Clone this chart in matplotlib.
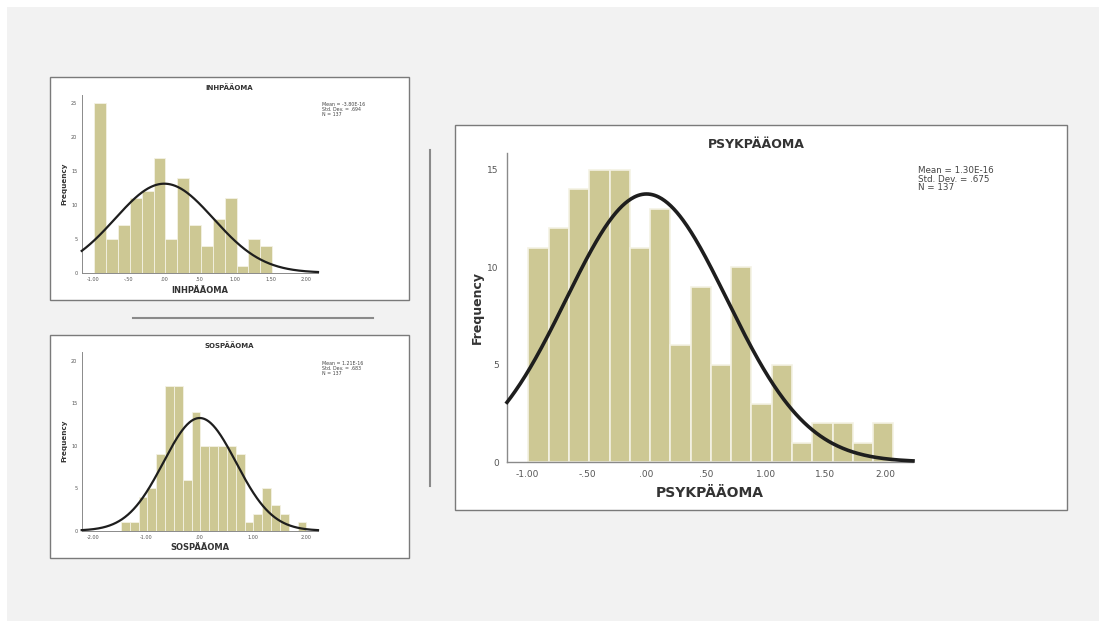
import numpy as np
import matplotlib
matplotlib.use("Agg")
import matplotlib.pyplot as plt
from matplotlib.patches import Rectangle
from matplotlib.lines import Line2D
from matplotlib.ticker import FuncFormatter

# ---------------- data ----------------
inh_counts = [25, 5, 7, 11, 12, 17, 5, 14, 7, 4, 8, 11, 1, 5, 4]
inh_bin_start = -0.986
inh_bin_width = 0.167
inh_mean, inh_sd, inh_n = -3.80e-16, 0.694, 137
inh_stats = ["Mean = -3.80E-16", "Std. Dev. = .694", "N = 137"]

sos_counts = [1, 1, 4, 5, 9, 17, 17, 6, 14, 10, 10, 10, 10, 9, 1, 2, 5, 3, 2, 0, 1]
sos_bin_start = -1.48
sos_bin_width = 0.166
sos_mean, sos_sd, sos_n = 1.21e-16, 0.683, 137
sos_stats = ["Mean = 1.21E-16", "Std. Dev. = .683", "N = 137"]

psyk_counts = [11, 12, 14, 15, 15, 11, 13, 6, 9, 5, 10, 3, 5, 1, 2, 2, 1, 2]
psyk_bin_start = -0.99
psyk_bin_width = 0.17
psyk_mean, psyk_sd, psyk_n = 1.30e-16, 0.675, 137
psyk_stats = ["Mean = 1.30E-16", "Std. Dev. = .675", "N = 137"]

inh_xticks = [-1.0, -0.5, 0.0, 0.5, 1.0, 1.5, 2.0]
sos_xticks = [-2.0, -1.0, 0.0, 1.0, 2.0]
psyk_xticks = [-1.0, -0.5, 0.0, 0.5, 1.0, 1.5, 2.0]
inh_yticks = [0, 5, 10, 15, 20, 25]
sos_yticks = [0, 5, 10, 15, 20]
psyk_yticks = [0, 5, 10, 15]

# ---------------- figure ----------------
W, H = 1099, 621
fig = plt.figure(figsize=(W / 100, H / 100), dpi=100)
fig.patch.set_facecolor("#f2f2f2")

def fx(px):
    return px / W

def fy(py):
    return 1 - py / H

# white strips at top and left edges
fig.add_artist(Rectangle((0, fy(7)), 1, 7 / H, transform=fig.transFigure,
                         facecolor="white", edgecolor="none", zorder=-2))
fig.add_artist(Rectangle((0, 0), 7 / W, 1, transform=fig.transFigure,
                         facecolor="white", edgecolor="none", zorder=-2))

BAR = "#cdc894"
EDGE = "#f4f2e4"
CURVE = "#1e1e1e"
TICKC = "#555555"

def panel_box(x0, y0, x1, y1):
    fig.add_artist(Rectangle((fx(x0), fy(y1)), fx(x1) - fx(x0), fy(y0) - fy(y1),
                             transform=fig.transFigure, facecolor="white",
                             edgecolor="#7a7a7a", linewidth=1.0, zorder=-1))

def fmt(v, pos=None):
    s = "%.2f" % v
    if s.startswith("0."):
        s = s[1:]
    elif s.startswith("-0."):
        s = "-" + s[2:]
    if s == "-.00":
        s = ".00"
    return s

def hist_panel(rect_px, xlim, ylim, counts, start, width, mean, sd, n,
               xticks, yticks, tick_fs, edge_lw, curve_lw):
    x0, y0, x1, y1 = rect_px
    ax = fig.add_axes([fx(x0), fy(y1), fx(x1) - fx(x0), fy(y0) - fy(y1)])
    ax.set_facecolor("white")
    lefts = start + width * np.arange(len(counts))
    ax.bar(lefts, counts, width=width, align="edge", color=BAR,
           edgecolor=EDGE, linewidth=edge_lw, zorder=2)
    xs = np.linspace(xlim[0], xlim[1], 400)
    ys = n * width * np.exp(-0.5 * ((xs - mean) / sd) ** 2) / (sd * np.sqrt(2 * np.pi))
    ax.plot(xs, ys, color=CURVE, linewidth=curve_lw, zorder=3, clip_on=False)
    ax.set_xlim(*xlim)
    ax.set_ylim(*ylim)
    ax.set_xticks(xticks)
    ax.set_yticks(yticks)
    ax.xaxis.set_major_formatter(FuncFormatter(fmt))
    for s in ["top", "right"]:
        ax.spines[s].set_visible(False)
    for s in ["left", "bottom"]:
        ax.spines[s].set_color("#8a8a8a")
        ax.spines[s].set_linewidth(1.0 if curve_lw > 2 else 0.7)
    ax.tick_params(length=0, labelsize=tick_fs, colors=TICKC, pad=tick_fs * 0.9)
    return ax

# ---------------- panel boxes ----------------
panel_box(50, 77, 409, 300)
panel_box(50, 335, 409, 558)
panel_box(455, 125, 1067, 510)

# separators
fig.add_artist(Line2D([fx(430), fx(430)], [fy(150), fy(486)], transform=fig.transFigure,
                      color="#8a8a8a", linewidth=1.5, zorder=-1))
fig.add_artist(Line2D([fx(133), fx(373)], [fy(318), fy(318)], transform=fig.transFigure,
                      color="#8a8a8a", linewidth=1.5, zorder=-1))

# ---------------- INH ----------------
ax1 = hist_panel((81.7, 94.7, 318, 272.7), (-1.164, 2.166), (0, 26.3),
                 inh_counts, inh_bin_start, inh_bin_width, inh_mean, inh_sd, inh_n,
                 inh_xticks, inh_yticks, 3.5, 0.6, 1.6)
fig.text(fx(229.5), fy(88), "INHPÄÄOMA", ha="center", va="center",
         fontsize=5, fontweight="bold", color="#333333")
fig.text(fx(200), fy(290), "INHPÄÄOMA", ha="center", va="center",
         fontsize=6, fontweight="bold", color="#333333")
fig.text(fx(64), fy(183.7), "Frequency", ha="center", va="center", rotation=90,
         fontsize=5.2, fontweight="bold", color="#333333")
fig.text(fx(321.5), fy(102), "\n".join(inh_stats), ha="left", va="top",
         fontsize=3.4, color="#444444", linespacing=1.0)

# ---------------- SOS ----------------
ax2 = hist_panel((81.7, 351.7, 318, 530.7), (-2.218, 2.224), (0, 21.1),
                 sos_counts, sos_bin_start, sos_bin_width, sos_mean, sos_sd, sos_n,
                 sos_xticks, sos_yticks, 3.5, 0.6, 1.6)
fig.text(fx(229.5), fy(346), "SOSPÄÄOMA", ha="center", va="center",
         fontsize=5, fontweight="bold", color="#333333")
fig.text(fx(200), fy(548), "SOSPÄÄOMA", ha="center", va="center",
         fontsize=6, fontweight="bold", color="#333333")
fig.text(fx(64), fy(441), "Frequency", ha="center", va="center", rotation=90,
         fontsize=5.2, fontweight="bold", color="#333333")
fig.text(fx(321.5), fy(361), "\n".join(sos_stats), ha="left", va="top",
         fontsize=3.4, color="#444444", linespacing=1.0)

# ---------------- PSYK ----------------
ax3 = hist_panel((507, 153, 913, 462), (-1.17, 2.235), (0, 15.87),
                 psyk_counts, psyk_bin_start, psyk_bin_width, psyk_mean, psyk_sd, psyk_n,
                 psyk_xticks, psyk_yticks, 6.5, 1.2, 2.6)
fig.text(fx(756), fy(144), "PSYKPÄÄOMA", ha="center", va="center",
         fontsize=9, fontweight="bold", color="#333333")
fig.text(fx(710), fy(493), "PSYKPÄÄOMA", ha="center", va="center",
         fontsize=10, fontweight="bold", color="#333333")
fig.text(fx(477), fy(307.5), "Frequency", ha="center", va="center", rotation=90,
         fontsize=9, fontweight="bold", color="#333333")
fig.text(fx(918), fy(166), "\n".join(psyk_stats), ha="left", va="top",
         fontsize=6.3, color="#444444", linespacing=0.95)

fig.savefig("out.png", dpi=100, facecolor=fig.get_facecolor())
